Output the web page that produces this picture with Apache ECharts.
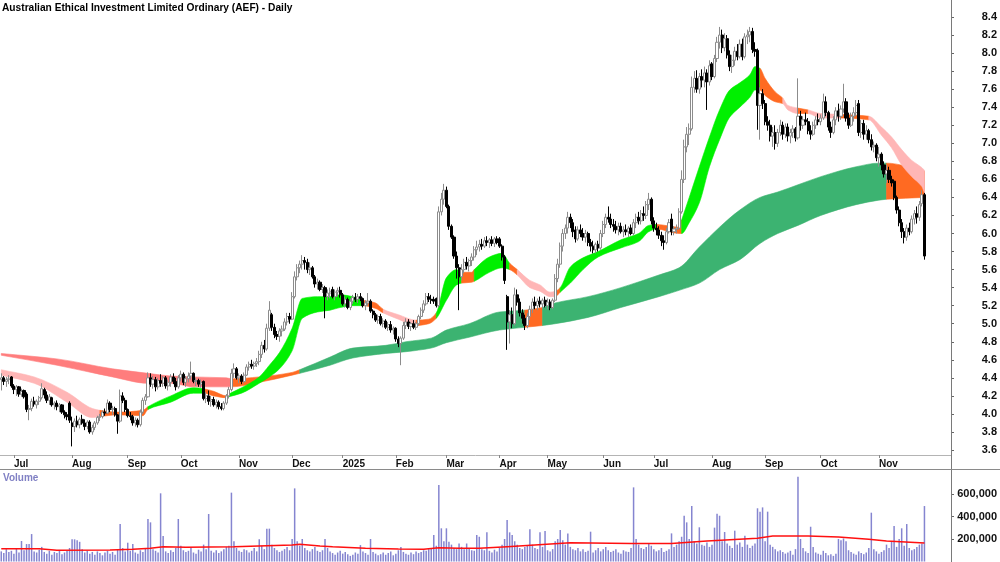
<!DOCTYPE html>
<html>
<head>
<meta charset="utf-8">
<title>AEF Daily</title>
<script src="https://cdn.jsdelivr.net/npm/echarts@6/dist/echarts.min.js"></script>
<style>
  html, body { margin: 0; padding: 0; background: #fff; }
  #chart { width: 1000px; height: 562px; }
</style>
</head>
<body>
<div id="chart"></div>
<script>
// ---- data ----
const firstDay = '2024-06-24';
const lastDay = '2025-11-27';
const holidays = ['2024-12-25', '2024-12-26', '2025-01-01', '2025-01-27', '2025-04-18', '2025-04-21', '2025-04-25', '2025-06-09'];
const padCount = 10; // empty space right of the last bar

const priceTicks = [3.6, 3.8, 4.0, 4.2, 4.4, 4.6, 4.8, 5.0, 5.2, 5.4, 5.6, 5.8, 6.0, 6.2, 6.4, 6.6, 6.8, 7.0, 7.2, 7.4, 7.6, 7.8, 8.0, 8.2, 8.4];
const volumeTicks = [200000, 400000, 600000];

// [open, high, low, close] per trading day
const ohlc = [
  [4.38,4.45,4.26,4.40],[4.40,4.42,4.32,4.36],[4.36,4.41,4.30,4.38],[4.38,4.43,4.33,4.39],[4.41,4.42,4.29,4.31],
  [4.31,4.33,4.22,4.27],[4.27,4.32,4.20,4.30],[4.30,4.31,4.19,4.22],[4.22,4.28,4.19,4.25],[4.26,4.27,4.17,4.19],
  [4.22,4.24,4.02,4.05],[4.05,4.10,3.93,4.06],[4.06,4.17,4.03,4.14],[4.14,4.19,4.08,4.11],[4.10,4.16,4.06,4.14],
  [4.14,4.20,4.10,4.18],[4.18,4.34,4.16,4.28],[4.27,4.29,4.17,4.21],[4.21,4.25,4.12,4.15],[4.15,4.22,4.10,4.19],
  [4.18,4.19,4.08,4.10],[4.10,4.14,4.05,4.12],[4.12,4.15,4.04,4.08],[4.08,4.12,4.02,4.10],[4.10,4.11,4.00,4.02],
  [4.02,4.04,3.95,3.99],[3.99,4.02,3.93,3.97],[4.12,4.14,3.90,3.93],[3.90,3.97,3.64,3.86],[3.86,3.95,3.80,3.92],
  [3.92,3.98,3.85,3.88],[3.88,3.96,3.84,3.94],[3.94,3.99,3.88,3.90],[3.90,3.94,3.82,3.86],[3.86,3.93,3.83,3.91],
  [3.91,3.93,3.78,3.80],[3.80,3.88,3.77,3.85],[3.85,3.92,3.82,3.90],[3.90,3.98,3.88,3.96],[3.96,4.00,3.92,3.97],
  [3.97,4.04,3.95,4.02],[4.02,4.06,3.98,4.01],[4.01,4.16,4.00,4.12],[4.12,4.14,4.02,4.05],[4.05,4.09,3.99,4.06],
  [4.06,4.08,3.97,3.99],[3.99,4.00,3.78,3.92],[3.92,4.27,3.90,4.20],[4.20,4.24,4.12,4.15],[4.15,4.18,4.02,4.05],
  [4.05,4.06,3.96,3.98],[3.98,4.02,3.93,3.97],[3.97,3.99,3.87,3.90],[3.90,3.96,3.86,3.93],[3.93,3.95,3.85,3.88],
  [3.88,4.05,3.86,4.02],[4.02,4.18,4.00,4.15],[4.15,4.22,4.10,4.19],[4.19,4.46,4.18,4.40],[4.40,4.45,4.30,4.33],
  [4.33,4.42,4.28,4.38],[4.38,4.41,4.25,4.30],[4.30,4.40,4.27,4.37],[4.37,4.44,4.30,4.34],[4.34,4.42,4.30,4.40],
  [4.40,4.42,4.28,4.31],[4.31,4.38,4.26,4.35],[4.35,4.44,4.30,4.41],[4.41,4.45,4.33,4.36],[4.36,4.40,4.26,4.30],
  [4.30,4.43,4.28,4.40],[4.40,4.48,4.36,4.44],[4.44,4.46,4.32,4.35],[4.35,4.42,4.30,4.39],[4.39,4.46,4.35,4.42],
  [4.42,4.58,4.38,4.45],[4.45,4.46,4.34,4.36],[4.36,4.40,4.31,4.37],[4.37,4.39,4.30,4.33],[4.33,4.38,4.29,4.35],
  [4.36,4.37,4.15,4.17],[4.17,4.24,4.12,4.20],[4.20,4.26,4.10,4.14],[4.14,4.20,4.08,4.16],[4.16,4.19,4.08,4.10],
  [4.10,4.16,4.06,4.13],[4.13,4.15,4.05,4.08],[4.08,4.12,4.04,4.06],[4.06,4.14,4.04,4.12],[4.12,4.22,4.10,4.20],
  [4.20,4.30,4.17,4.27],[4.27,4.50,4.25,4.45],[4.45,4.56,4.40,4.50],[4.50,4.52,4.38,4.40],[4.40,4.45,4.34,4.42],
  [4.42,4.44,4.33,4.36],[4.36,4.46,4.34,4.43],[4.43,4.55,4.42,4.52],[4.52,4.58,4.48,4.55],[4.55,4.60,4.50,4.53],
  [4.53,4.58,4.49,4.56],[4.56,4.62,4.52,4.58],[4.58,4.70,4.54,4.66],[4.66,4.80,4.62,4.76],[4.76,4.82,4.68,4.72],
  [4.72,5.00,4.70,4.95],[4.95,5.25,4.92,5.15],[5.10,5.12,4.92,4.96],[4.96,5.00,4.84,4.88],[4.88,4.92,4.82,4.86],
  [4.86,4.95,4.80,4.92],[4.92,4.98,4.86,4.94],[4.94,5.06,4.92,5.02],[5.02,5.12,4.98,5.08],[5.08,5.12,5.00,5.05],
  [5.05,5.35,5.04,5.30],[5.30,5.58,5.28,5.52],[5.52,5.66,5.48,5.62],[5.62,5.70,5.56,5.66],[5.66,5.76,5.60,5.70],
  [5.70,5.74,5.60,5.68],[5.68,5.72,5.56,5.60],[5.60,5.68,5.54,5.62],[5.62,5.64,5.50,5.52],[5.52,5.54,5.40,5.44],
  [5.44,5.50,5.38,5.46],[5.46,5.48,5.36,5.38],[5.38,5.44,5.34,5.40],[5.40,5.42,5.06,5.30],[5.30,5.38,5.26,5.34],
  [5.34,5.40,5.28,5.36],[5.38,5.41,5.28,5.30],[5.30,5.38,5.26,5.35],[5.35,5.40,5.30,5.37],[5.37,5.41,5.29,5.32],
  [5.32,5.34,5.20,5.22],[5.22,5.30,5.18,5.27],[5.27,5.29,5.16,5.18],[5.18,5.28,5.15,5.25],[5.25,5.32,5.22,5.29],
  [5.29,5.34,5.24,5.27],[5.27,5.33,5.23,5.30],[5.30,5.34,5.25,5.28],[5.28,5.29,5.18,5.20],[5.20,5.26,5.15,5.23],
  [5.23,5.34,5.20,5.25],[5.25,5.27,5.12,5.14],[5.14,5.16,5.06,5.10],[5.10,5.12,5.02,5.04],[5.04,5.10,5.00,5.08],
  [5.08,5.11,4.98,5.00],[5.00,5.06,4.96,5.03],[5.03,5.05,4.94,4.96],[4.96,5.02,4.92,4.99],[4.99,5.03,4.90,4.93],
  [4.93,4.97,4.88,4.95],[4.95,4.96,4.80,4.83],[4.83,4.86,4.74,4.78],[4.78,4.86,4.54,4.84],[4.84,5.02,4.82,4.98],
  [4.98,5.06,4.94,5.02],[5.02,5.05,4.94,4.97],[4.97,5.02,4.92,5.00],[5.00,5.04,4.94,4.96],[4.96,5.02,4.93,5.00],
  [5.00,5.10,4.98,5.08],[5.08,5.18,5.05,5.15],[5.15,5.26,5.12,5.22],[5.22,5.34,5.20,5.30],[5.30,5.34,5.24,5.27],
  [5.27,5.32,5.22,5.26],[5.27,5.30,5.22,5.25],[5.28,5.29,5.18,5.20],[5.20,6.30,5.18,6.24],[6.24,6.45,6.20,6.38],
  [6.38,6.55,6.32,6.48],[6.48,6.52,6.28,6.30],[6.30,6.32,6.04,6.08],[6.08,6.10,5.94,5.96],[5.96,5.98,5.72,5.75],
  [5.75,5.80,5.50,5.62],[5.62,5.66,5.15,5.52],[5.52,5.66,5.48,5.60],[5.60,5.72,5.56,5.68],[5.68,5.74,5.60,5.64],
  [5.64,5.72,5.58,5.70],[5.70,5.78,5.64,5.74],[5.74,5.86,5.70,5.82],[5.82,5.92,5.76,5.85],[5.85,5.93,5.80,5.88],
  [5.88,5.94,5.82,5.86],[5.86,5.96,5.84,5.92],[5.92,5.97,5.86,5.90],[5.90,5.95,5.84,5.93],[5.93,5.97,5.86,5.89],
  [5.89,5.96,5.85,5.94],[5.94,5.97,5.88,5.90],[5.94,5.96,5.84,5.86],[5.86,5.88,5.70,5.74],[5.74,5.76,5.44,5.48],
  [5.30,5.32,4.71,5.02],[5.02,5.15,4.78,5.10],[5.10,5.18,4.95,5.00],[5.00,5.40,4.98,5.32],[5.32,5.38,5.20,5.24],
  [5.24,5.28,5.08,5.12],[5.12,5.16,5.00,5.06],[5.06,5.10,4.93,4.98],[4.98,5.12,4.95,5.08],[5.08,5.20,5.04,5.16],
  [5.16,5.28,5.12,5.24],[5.24,5.30,5.16,5.20],[5.20,5.28,5.15,5.25],[5.25,5.30,5.18,5.22],[5.22,5.28,5.16,5.26],
  [5.26,5.30,5.18,5.20],[5.20,5.28,5.16,5.24],[5.24,5.27,5.15,5.18],[5.18,5.28,5.16,5.26],[5.26,5.55,5.24,5.50],
  [5.50,5.72,5.46,5.66],[5.66,5.90,5.62,5.86],[5.86,6.05,5.80,6.00],[6.00,6.10,5.94,6.06],[6.06,6.24,6.00,6.18],
  [6.18,6.22,6.06,6.12],[6.12,6.16,5.96,6.02],[6.04,6.08,5.90,5.94],[5.94,6.08,5.92,6.04],[6.04,6.10,5.96,6.00],
  [6.00,6.06,5.92,5.96],[5.96,6.04,5.90,6.00],[6.00,6.02,5.86,5.90],[5.90,5.94,5.80,5.86],[5.86,5.92,5.78,5.82],
  [5.82,5.90,5.78,5.88],[5.88,5.92,5.80,5.84],[5.84,6.04,5.82,6.00],[6.00,6.14,5.96,6.10],[6.10,6.22,6.06,6.18],
  [6.18,6.30,6.12,6.16],[6.16,6.22,6.06,6.10],[6.10,6.16,6.02,6.08],[6.08,6.14,6.00,6.04],[6.04,6.12,5.98,6.08],
  [6.08,6.12,6.00,6.02],[6.02,6.08,5.96,6.04],[6.04,6.10,5.98,6.02],[6.02,6.08,5.96,6.06],[6.06,6.10,5.98,6.00],
  [6.00,6.16,5.98,6.12],[6.12,6.22,6.06,6.18],[6.18,6.24,6.10,6.14],[6.14,6.26,6.10,6.22],[6.22,6.30,6.14,6.20],
  [6.20,6.36,6.16,6.32],[6.32,6.45,6.26,6.38],[6.38,6.40,6.10,6.14],[6.14,6.18,6.02,6.06],[6.06,6.12,5.98,6.04],
  [6.04,6.08,5.94,5.98],[5.98,6.02,5.86,5.92],[5.92,5.98,5.82,5.90],[5.90,6.06,5.88,6.02],[6.02,6.16,6.00,6.12],
  [6.16,6.22,5.98,6.02],[6.02,6.08,5.98,6.05],[6.05,6.10,6.00,6.06],[6.06,6.28,6.04,6.24],[6.24,6.70,6.22,6.60],
  [6.60,7.04,6.56,6.96],[6.96,7.18,6.90,7.10],[7.10,7.22,6.98,7.16],[7.16,7.74,7.14,7.62],[7.62,7.80,7.56,7.72],
  [7.72,7.81,7.56,7.60],[7.60,7.78,7.55,7.74],[7.74,7.82,7.62,7.70],[7.70,7.85,7.62,7.78],[7.78,7.82,7.37,7.68],
  [7.68,7.92,7.64,7.86],[7.88,7.90,7.70,7.74],[7.74,7.98,7.72,7.94],[7.94,8.18,7.90,8.12],[8.12,8.29,8.05,8.20],
  [8.20,8.26,8.00,8.06],[8.06,8.22,8.02,8.16],[8.16,8.20,7.94,7.98],[7.98,8.03,7.80,7.85],[7.85,7.98,7.78,7.92],
  [7.92,8.07,7.86,8.02],[8.02,8.10,7.92,7.96],[7.96,8.15,7.94,8.10],[8.10,8.16,7.92,7.96],[7.96,8.22,7.94,8.18],
  [8.18,8.26,8.10,8.20],[8.20,8.29,8.12,8.24],[8.24,8.28,8.00,8.04],[8.04,8.12,7.96,8.02],[8.03,8.05,7.15,7.42],
  [7.42,7.62,7.04,7.55],[7.55,7.60,7.38,7.44],[7.44,7.48,7.20,7.24],[7.24,7.30,7.14,7.20],[7.20,7.26,7.02,7.08],
  [7.08,7.18,6.96,7.12],[7.12,7.20,6.93,7.00],[7.00,7.16,6.96,7.12],[7.12,7.26,7.08,7.20],[7.20,7.24,7.04,7.10],
  [7.10,7.22,7.06,7.18],[7.18,7.22,7.02,7.08],[7.08,7.16,7.00,7.12],[7.12,7.20,7.06,7.16],[7.16,7.18,7.02,7.06],
  [7.06,7.72,7.04,7.30],[7.30,7.36,7.14,7.20],[7.20,7.30,7.16,7.26],[7.26,7.34,7.20,7.24],[7.24,7.28,7.10,7.14],
  [7.14,7.20,7.04,7.10],[7.10,7.24,7.08,7.20],[7.20,7.30,7.16,7.26],[7.26,7.33,7.20,7.24],[7.24,7.32,7.20,7.28],
  [7.28,7.55,7.26,7.46],[7.46,7.52,7.30,7.34],[7.34,7.36,7.14,7.18],[7.18,7.24,7.06,7.12],[7.12,7.30,7.10,7.26],
  [7.26,7.40,7.20,7.36],[7.36,7.44,7.24,7.30],[7.30,7.42,7.26,7.38],[7.38,7.66,7.34,7.46],[7.46,7.50,7.24,7.28],
  [7.28,7.34,7.16,7.20],[7.20,7.34,7.18,7.30],[7.30,7.40,7.24,7.34],[7.34,7.48,7.30,7.42],[7.44,7.48,7.08,7.12],
  [7.12,7.26,7.06,7.22],[7.22,7.26,7.04,7.10],[7.10,7.20,7.04,7.14],[7.14,7.16,7.00,7.04],[7.04,7.10,6.92,6.96],
  [6.96,7.02,6.90,6.98],[6.98,7.00,6.80,6.84],[6.84,6.96,6.74,6.88],[6.88,6.90,6.70,6.76],[6.76,6.80,6.62,6.66],
  [6.66,6.76,6.56,6.70],[6.70,6.74,6.56,6.60],[6.60,6.64,6.52,6.56],[6.58,6.60,6.37,6.40],[6.40,6.42,6.22,6.26],
  [6.26,6.30,6.08,6.12],[6.12,6.16,5.95,6.02],[6.02,6.06,5.89,5.96],[5.96,6.10,5.92,6.06],[6.06,6.12,5.98,6.02],
  [6.02,6.20,6.00,6.16],[6.16,6.26,6.10,6.22],[6.22,6.30,6.11,6.18],[6.18,6.36,6.14,6.32],[6.33,6.48,6.30,6.43],
  [6.43,6.45,5.71,5.75]
];

// daily volume, thousands of shares
const volumeK = [
  90, 75, 110, 85, 95, 70, 120, 80, 182, 100,
  155, 155, 244, 90, 80, 105, 130, 85, 70, 95,
  60, 85, 75, 100, 65, 80, 95, 120, 197, 197,
  190, 175, 110, 80, 95, 70, 85, 60, 90, 75,
  55, 80, 95, 70, 85, 60, 110, 333, 120, 90,
  167, 95, 155, 80, 70, 100, 85, 120, 378, 348,
  110, 95, 80, 606, 227, 90, 75, 100, 85, 120,
  378, 140, 100, 85, 95, 130, 80, 70, 105, 90,
  150, 110, 422, 95, 80, 100, 75, 90, 110, 130,
  140, 612, 180, 120, 95, 85, 110, 100, 80, 95,
  120, 90, 197, 140, 110, 292, 292, 150, 120, 100,
  85, 95, 110, 130, 100, 200, 650, 180, 140, 200,
  120, 100, 90, 110, 130, 95, 85, 100, 200, 120,
  90, 75, 60, 80, 95, 70, 85, 65, 50, 60,
  80, 70, 146, 90, 75, 60, 200, 85, 70, 55,
  65, 80, 60, 75, 90, 55, 70, 100, 130, 85,
  70, 60, 80, 65, 90, 75, 85, 100, 95, 110,
  120, 235, 140, 680, 295, 180, 295, 175, 150, 120,
  110, 160, 130, 110, 160, 120, 100, 95, 235, 220,
  110, 100, 259, 95, 80, 105, 90, 120, 150, 200,
  369, 259, 235, 180, 150, 120, 110, 130, 140, 286,
  150, 120, 110, 259, 130, 271, 100, 90, 110, 180,
  200, 280, 190, 150, 250, 130, 110, 100, 120, 90,
  110, 85, 95, 265, 80, 100, 120, 90, 110, 130,
  100, 85, 95, 110, 80, 70, 100, 90, 85, 120,
  659, 200, 150, 120, 110, 130, 160, 140, 110, 90,
  100, 120, 85, 95, 110, 250, 130, 150, 180, 220,
  407, 348, 200, 493, 180, 160, 304, 150, 140, 170,
  130, 150, 301, 425, 407, 180, 262, 160, 140, 120,
  274, 150, 170, 130, 230, 150, 120, 140, 160, 473,
  443, 481, 180, 443, 150, 130, 110, 90, 100, 85,
  70, 80, 95, 60, 110, 754, 200, 120, 90, 75,
  309, 130, 80, 70, 60, 95, 75, 55, 65, 50,
  70, 200, 190, 205, 180, 100, 85, 70, 60, 90,
  75, 65, 80, 120, 434, 110, 90, 70, 85, 100,
  150, 120, 180, 316, 130, 200, 295, 140, 333, 120,
  100, 110, 130, 150, 160, 493
];

// volume moving-average line, read at these day indexes (thousands)
const volMaIdx = [0, 15, 22, 43, 52, 59, 64, 73, 92, 105, 115, 118, 126, 131, 144, 157, 167, 173, 181, 189, 200, 225, 249, 265, 279, 299, 305, 319, 331, 343, 350, 365];
const volMaK   = [114, 114, 99, 102, 108, 117, 132, 126, 132, 141, 147, 153, 138, 132, 117, 111, 108, 123, 117, 117, 132, 167, 161, 161, 182, 206, 227, 227, 218, 197, 182, 165];

// short-term ribbon edges (u = rising, d = falling, m = crossing)
const shortIdx = [0, 13, 26, 36, 39, 46, 56, 58, 67, 76, 80, 84, 89, 90, 95, 102, 106, 110, 115, 119, 125, 130, 134, 139, 143, 148, 151, 157, 164, 169, 172, 176, 180, 182, 186, 187, 193, 198, 201, 204, 209, 213, 217, 219, 221, 225, 230, 236, 245, 252, 256, 259, 268, 269, 272, 276, 280, 284, 288, 292, 296, 298, 300, 302, 306, 309, 311, 315, 319, 324, 332, 343, 348, 352, 356, 360, 364, 365];
const shortLo  = [4.43, 4.34, 4.13, 3.96, 3.97, 3.99, 3.98, 4.05, 4.13, 4.23, 4.23, 4.20, 4.18, 4.19, 4.23, 4.34, 4.41, 4.50, 4.70, 5.06, 5.13, 5.15, 5.18, 5.20, 5.20, 5.17, 5.12, 5.05, 4.98, 5.00, 5.06, 5.26, 5.43, 5.45, 5.46, 5.47, 5.57, 5.62, 5.60, 5.54, 5.40, 5.36, 5.30, 5.30, 5.35, 5.45, 5.60, 5.74, 5.84, 5.91, 6.02, 6.05, 6.00, 6.00, 6.12, 6.34, 6.74, 7.04, 7.29, 7.40, 7.51, 7.59, 7.59, 7.53, 7.46, 7.44, 7.37, 7.33, 7.33, 7.28, 7.28, 7.26, 7.09, 6.95, 6.76, 6.63, 6.52, 6.45];
const shortHi  = [4.49, 4.41, 4.24, 4.06, 4.04, 4.02, 4.04, 4.08, 4.20, 4.29, 4.28, 4.25, 4.20, 4.22, 4.29, 4.41, 4.54, 4.68, 4.95, 5.28, 5.30, 5.30, 5.32, 5.30, 5.26, 5.23, 5.16, 5.10, 5.04, 5.05, 5.12, 5.51, 5.60, 5.57, 5.57, 5.60, 5.74, 5.78, 5.67, 5.60, 5.48, 5.43, 5.35, 5.36, 5.40, 5.63, 5.73, 5.80, 5.93, 6.00, 6.09, 6.10, 6.07, 6.15, 6.40, 6.74, 7.07, 7.37, 7.59, 7.67, 7.76, 7.85, 7.83, 7.72, 7.57, 7.50, 7.42, 7.39, 7.37, 7.33, 7.32, 7.30, 7.18, 7.07, 6.93, 6.81, 6.73, 6.70];
const shortState = ['d','d','d','d','m','m','m','u','u','u','m','m','m','u','u','u','u','u','u','u','u','u','u','u','m','m','d','d','m','m','u','u','u','m','m','u','u','u','m','d','d','d','d','m','u','u','u','u','u','u','u','m','m','u','u','u','u','u','u','u','u','u','m','m','m','d','d','m','d','d','m','d','d','d','d','d','d','d'];

// long-term ribbon edges
const longIdx = [0, 22, 44, 58, 67, 76, 89, 91, 102, 115, 118, 130, 139, 152, 160, 170, 176, 185, 197, 207, 214, 219, 232, 245, 260, 268, 276, 284, 292, 300, 307, 315, 324, 338, 347, 350, 365];
const longLo  = [4.65, 4.54, 4.41, 4.34, 4.34, 4.30, 4.30, 4.30, 4.35, 4.43, 4.45, 4.54, 4.62, 4.67, 4.69, 4.73, 4.79, 4.85, 4.93, 4.96, 4.98, 5.00, 5.07, 5.18, 5.30, 5.37, 5.45, 5.60, 5.71, 5.89, 6.00, 6.09, 6.20, 6.32, 6.37, 6.38, 6.40];
const longHi  = [4.67, 4.61, 4.50, 4.45, 4.42, 4.41, 4.40, 4.39, 4.41, 4.46, 4.49, 4.63, 4.73, 4.76, 4.80, 4.84, 4.93, 5.00, 5.13, 5.15, 5.18, 5.23, 5.30, 5.40, 5.54, 5.62, 5.85, 6.07, 6.26, 6.40, 6.46, 6.54, 6.63, 6.74, 6.78, 6.78, 6.69];
const longState = ['d','d','d','d','d','d','d','m','m','m','u','u','u','u','u','u','u','u','u','m','u','u','u','u','u','u','u','u','u','u','u','u','u','u','u','m','m'];

// ---- styling ----
const shortColors = { u: '#00f000', d: '#ffb6b6', m: '#ff6a22' };
const longColors = { u: '#3cb371', d: '#ff7d7d', m: '#ff6a22' };
const monthNames = ['Jan','Feb','Mar','Apr','May','Jun','Jul','Aug','Sep','Oct','Nov','Dec'];
const labelFont = 'Liberation Sans';

function tradingDays(from, to, skip) {
  const out = [];
  const d = new Date(from + 'T00:00:00Z');
  const end = new Date(to + 'T00:00:00Z');
  while (d <= end) {
    const wd = d.getUTCDay();
    const s = d.toISOString().slice(0, 10);
    if (wd !== 0 && wd !== 6 && skip.indexOf(s) < 0) out.push(s);
    d.setUTCDate(d.getUTCDate() + 1);
  }
  return out;
}

const dates = tradingDays(firstDay, lastDay, holidays);
const categories = dates.concat(Array.from({ length: padCount }, (_, i) => 'pad' + i));

function isMonthStart(i) {
  if (i <= 0 || i >= dates.length) return false;
  return dates[i].slice(5, 7) !== dates[i - 1].slice(5, 7);
}

function monthLabel(v) {
  const m = +v.slice(5, 7);
  return m === 1 ? v.slice(0, 4) : monthNames[m - 1];
}

// group consecutive ribbon segments that share a state
function bandRuns(states) {
  const runs = [];
  let s = 0;
  for (let k = 1; k < states.length; k++) {
    if (states[k] !== states[s] || k === states.length - 1) {
      runs.push([s, k, states[s]]);
      s = k;
    }
  }
  return runs;
}

// pixel slopes for a smooth (monotone) edge through the sample points
function edgeSlopes(P) {
  const n = P.length, sec = [], m = [];
  for (let k = 0; k < n - 1; k++) sec.push((P[k + 1][1] - P[k][1]) / (P[k + 1][0] - P[k][0]));
  for (let k = 0; k < n; k++) {
    if (k === 0) m.push(sec[0]);
    else if (k === n - 1) m.push(sec[n - 2]);
    else if (sec[k - 1] * sec[k] <= 0) m.push(0);
    else m.push(2 * sec[k - 1] * sec[k] / (sec[k - 1] + sec[k]));
  }
  return m;
}

function curveTo(P, m, a, b) {
  const dx = (P[b][0] - P[a][0]) / 3;
  const c1 = [P[a][0] + dx, P[a][1] + m[a] * dx];
  const c2 = [P[b][0] - dx, P[b][1] - m[b] * dx];
  return 'C' + c1[0].toFixed(2) + ' ' + c1[1].toFixed(2) + ' ' + c2[0].toFixed(2) + ' ' + c2[1].toFixed(2) + ' ' + P[b][0].toFixed(2) + ' ' + P[b][1].toFixed(2);
}

function ribbon(idx, lo, hi, states, colors, z) {
  const runs = bandRuns(states);
  return {
    type: 'custom',
    xAxisIndex: 0,
    yAxisIndex: 0,
    silent: true,
    z: z,
    data: runs.map(r => [idx[r[0]], lo[r[0]]]),
    encode: { x: 0, y: 1 },
    renderItem(params, api) {
      const r = runs[params.dataIndex];
      const T = idx.map((d, k) => api.coord([d, hi[k]]));
      const B = idx.map((d, k) => api.coord([d, lo[k]]));
      const mT = edgeSlopes(T), mB = edgeSlopes(B);
      let p = 'M' + T[r[0]][0].toFixed(2) + ' ' + T[r[0]][1].toFixed(2);
      for (let k = r[0]; k < r[1]; k++) p += curveTo(T, mT, k, k + 1);
      p += 'L' + B[r[1]][0].toFixed(2) + ' ' + B[r[1]][1].toFixed(2);
      for (let k = r[1]; k > r[0]; k--) p += curveTo(B, mB, k, k - 1);
      p += 'Z';
      const c = colors[r[2]];
      return {
        type: 'path',
        shape: { pathData: p },
        style: { fill: c, stroke: c, lineWidth: 0.6 }
      };
    }
  };
}

const volMaLine = dates.map(() => null);
volMaIdx.forEach((d, k) => { volMaLine[d] = volMaK[k] * 1000; });

const chart = echarts.init(document.getElementById('chart'), null, { renderer: 'canvas' });

const option = {
  animation: false,
  backgroundColor: '#ffffff',
  title: {
    text: 'Australian Ethical Investment Limited Ordinary (AEF) - Daily',
    left: 2,
    top: 3,
    padding: 0,
    textStyle: { fontFamily: labelFont, fontSize: 10.2, fontWeight: 'bold', color: '#000' }
  },
  grid: [
    { left: 0, right: 48.5, top: 0, height: 455, show: false },
    { left: 0, right: 48.5, top: 470, height: 91.5, show: false }
  ],
  xAxis: [
    {
      type: 'category',
      gridIndex: 0,
      data: categories,
      boundaryGap: true,
      axisLine: { lineStyle: { color: '#b4b4b4', width: 1 } },
      axisTick: { show: true, alignWithLabel: true, length: 3, interval: (i) => isMonthStart(i), lineStyle: { color: '#888' } },
      axisLabel: {
        interval: (i) => isMonthStart(i),
        formatter: monthLabel,
        align: 'left',
        margin: 4,
        fontFamily: labelFont,
        fontSize: 10,
        fontWeight: 'bold',
        color: '#111'
      },
      splitLine: { show: false }
    },
    {
      type: 'category',
      gridIndex: 1,
      data: categories,
      boundaryGap: true,
      axisLine: { show: false },
      axisTick: { show: false },
      axisLabel: { show: false },
      splitLine: { show: false }
    }
  ],
  yAxis: [
    {
      type: 'value',
      gridIndex: 0,
      position: 'right',
      min: 3.5446,
      max: 8.5885,
      axisLine: { show: false },
      splitLine: { show: false },
      axisTick: { show: true, length: 3, customValues: priceTicks, lineStyle: { color: '#666' } },
      axisLabel: {
        customValues: priceTicks,
        formatter: (v) => v.toFixed(1),
        align: 'right',
        margin: 46,
        fontFamily: labelFont,
        fontSize: 11,
        fontWeight: 'bold',
        color: '#111'
      }
    },
    {
      type: 'value',
      gridIndex: 1,
      position: 'right',
      min: 0,
      max: 813333,
      axisLine: { show: false },
      splitLine: { show: false },
      axisTick: { show: true, length: 3, customValues: volumeTicks, lineStyle: { color: '#666' } },
      axisLabel: {
        customValues: volumeTicks,
        formatter: (v) => Math.round(v).toLocaleString('en-US'),
        align: 'right',
        margin: 46,
        fontFamily: labelFont,
        fontSize: 11,
        fontWeight: 'bold',
        color: '#111'
      }
    }
  ],
  graphic: [
    { type: 'line', shape: { x1: 951.5, y1: 0, x2: 951.5, y2: 562 }, style: { stroke: '#7a7a7a', lineWidth: 1 }, z: 100 },
    { type: 'line', shape: { x1: 0, y1: 469.5, x2: 1000, y2: 469.5 }, style: { stroke: '#8a8a8a', lineWidth: 1 }, z: 100 },
    { type: 'text', left: 3, top: 473, style: { text: 'Volume', font: 'bold 10px "Liberation Sans"', fill: '#8080c4' }, z: 100 }
  ],
  series: [
    ribbon(longIdx, longLo, longHi, longState, longColors, 1),
    ribbon(shortIdx, shortLo, shortHi, shortState, shortColors, 2),
    {
      type: 'candlestick',
      xAxisIndex: 0,
      yAxisIndex: 0,
      z: 3,
      barWidth: 2.6,
      data: ohlc.map(d => [d[0], d[3], d[2], d[1]]),
      itemStyle: { color: '#ffffff', color0: '#000000', borderColor: '#8c8c8c', borderColor0: '#000000', borderWidth: 1 }
    },
    {
      type: 'bar',
      xAxisIndex: 1,
      yAxisIndex: 1,
      barWidth: 1.5,
      data: volumeK.map(v => v * 1000),
      itemStyle: { color: '#8585d0' }
    },
    {
      type: 'line',
      xAxisIndex: 1,
      yAxisIndex: 1,
      data: volMaLine,
      connectNulls: true,
      symbol: 'none',
      smooth: false,
      lineStyle: { color: '#ff1010', width: 1.5 },
      z: 4
    }
  ]
};

chart.setOption(option);
window.addEventListener('resize', () => chart.resize());
</script>
</body>
</html>
